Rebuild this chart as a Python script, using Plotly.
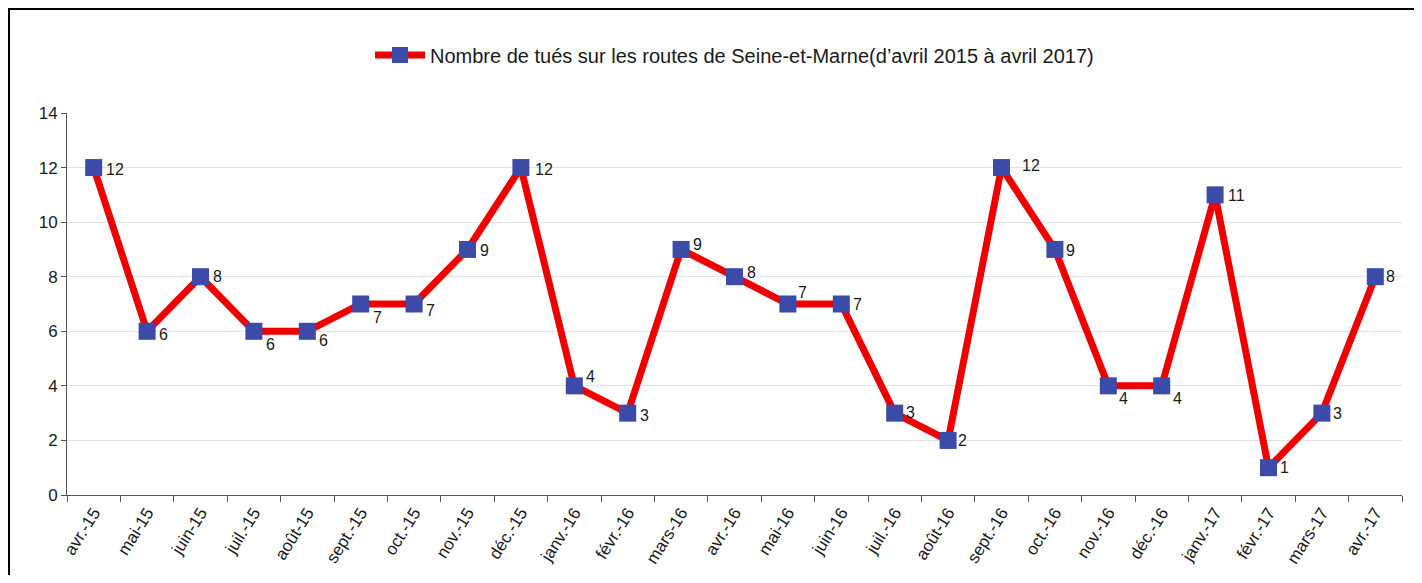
import plotly.graph_objects as go

months = ["avr.-15", "mai-15", "juin-15", "juil.-15", "août-15", "sept.-15", "oct.-15",
          "nov.-15", "déc.-15", "janv.-16", "févr.-16", "mars-16", "avr.-16", "mai-16",
          "juin-16", "juil.-16", "août-16", "sept.-16", "oct.-16", "nov.-16", "déc.-16",
          "janv.-17", "févr.-17", "mars-17", "avr.-17"]
tues = [12, 6, 8, 6, 6, 7, 7, 9, 12, 4, 3, 9, 8, 7, 7, 3, 2, 12, 9, 4, 4, 11, 1, 3, 8]
series_name = "Nombre de tués sur les routes de Seine-et-Marne(d’avril 2015 à avril 2017)"

# data-label offsets in pixels (right of marker, positive = downward)
label_dx = [10, 10, 10, 10, 10, 10, 10, 10, 12, 10, 10, 10, 10, 8, 10,
            9, 8, 18, 9, 9, 9, 11, 9, 9, 9]
label_dy = [2, 3, 0, 13, 9, 13, 6, 1, 2, -9, 2, -5, -4, -12, 0,
            -1, 0, -2, 1, 13, 13, 1, 0, 0, 0]

FONT = "Liberation Sans, Arial, sans-serif"

fig = go.Figure()
fig.add_trace(go.Scatter(
    x=months, y=tues, name=series_name,
    mode="lines+markers",
    line=dict(color="#EE0000", width=7),
    marker=dict(symbol="square", size=17, color="#3C4AA8", line=dict(width=0)),
    cliponaxis=False,
    showlegend=True,
))

for m, v, dx, dy in zip(months, tues, label_dx, label_dy):
    fig.add_annotation(x=m, y=v, text=str(v), showarrow=False, xanchor="left",
                       yanchor="middle", xshift=dx, yshift=-dy,
                       font=dict(family=FONT, size=16, color="#1a1a1a"))

OFF = 8  # page body margin
W, H = 1422 - 2 * OFF, 583 - 2 * OFF
# target plot area in page pixels: x 67..1402, y 113..495
L = 67 - OFF
T = 113 - OFF
R = (OFF + W) - 1402
B = (OFF + H) - 495
pw, ph = W - L - R, H - T - B

def px_x(p):
    return (p - OFF - L) / pw

def px_y(p):
    return (OFF + H - B - p) / ph

fig.add_shape(type="rect", xref="paper", yref="paper",
              x0=px_x(9), x1=px_x(1440), y0=px_y(620), y1=px_y(9),
              line=dict(color="black", width=2), fillcolor="rgba(0,0,0,0)", layer="above")

fig.update_layout(
    width=W, height=H,
    margin=dict(l=L, r=R, t=T, b=B, pad=0, autoexpand=False),
    paper_bgcolor="white", plot_bgcolor="white",
    font=dict(family=FONT, size=16, color="#1a1a1a"),
    legend=dict(orientation="h", x=0.5, xanchor="center", y=px_y(55), yanchor="middle",
                font=dict(family=FONT, size=20, color="#1a1a1a"),
                itemwidth=50, bgcolor="rgba(0,0,0,0)"),
    xaxis=dict(type="category", range=[-0.5, len(months) - 0.5], tickson="boundaries",
               ticks="outside", ticklen=6, tickcolor="#555", showline=True, linecolor="#555",
               linewidth=1, showgrid=False, tickangle=-58, automargin=False,
               tickfont=dict(family=FONT, size=17, color="#1a1a1a")),
    yaxis=dict(range=[0, 14], dtick=2, ticks="outside", ticklen=5, tickcolor="#555",
               showline=True, linecolor="#555", linewidth=1, showgrid=True,
               gridcolor="#e3e3e3", gridwidth=1, zeroline=False, automargin=False,
               tickfont=dict(family=FONT, size=17, color="#1a1a1a")),
)

fig.write_html("out.html")
